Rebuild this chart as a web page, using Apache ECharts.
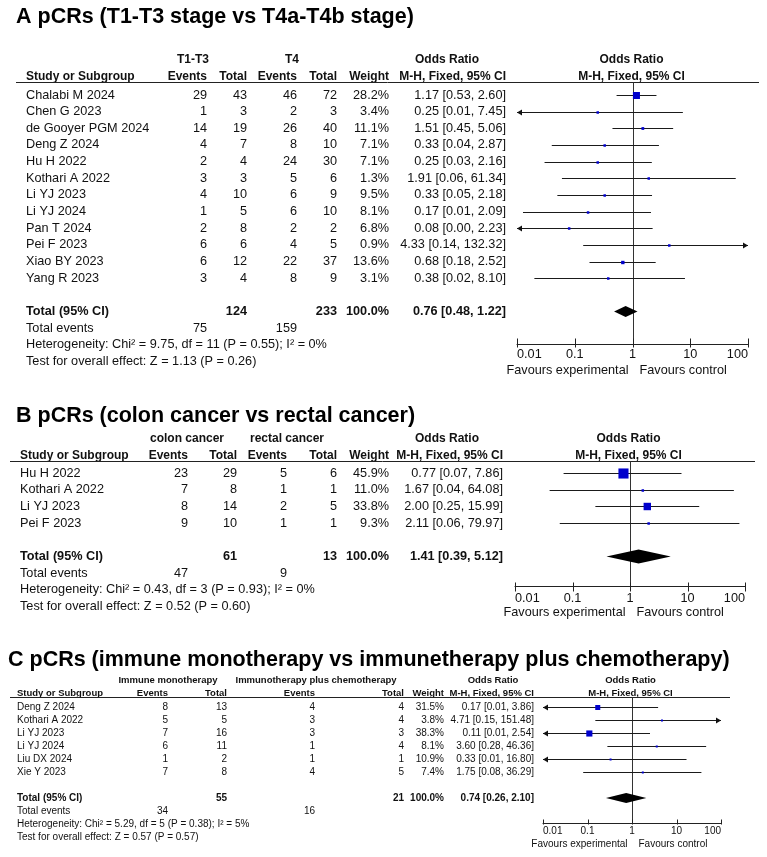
<!DOCTYPE html>
<html>
<head>
<meta charset="utf-8">
<script src="https://cdn.jsdelivr.net/npm/echarts@6/dist/echarts.min.js"></script>
<style>
html, body { margin: 0; padding: 0; background: #fff; }
#main { width: 767px; height: 857px; }
</style>
</head>
<body>
<div id="main"></div>
<script>
// axis tick labels (log scale, 0.01 .. 100)
var tickLabels = ['0.01', '0.1', '1', '10', '100'];

// ---- A: T1-T3 vs T4 ----
var aTitle = 'A pCRs (T1-T3 stage vs T4a-T4b stage)';
var aGroups = ['T1-T3', 'T4'];
var aStudies = ['Chalabi M 2024', 'Chen G 2023', 'de Gooyer PGM 2024', 'Deng Z 2024', 'Hu H 2022', 'Kothari A 2022',
  'Li YJ 2023', 'Li YJ 2024', 'Pan T 2024', 'Pei F 2023', 'Xiao BY 2023', 'Yang R 2023'];
var aEv1 = [29, 1, 14, 4, 2, 3, 4, 1, 2, 6, 6, 3];
var aTot1 = [43, 3, 19, 7, 4, 3, 10, 5, 8, 6, 12, 4];
var aEv2 = [46, 2, 26, 8, 24, 5, 6, 6, 2, 4, 22, 8];
var aTot2 = [72, 3, 40, 10, 30, 6, 9, 10, 2, 5, 37, 9];
var aWeight = [28.2, 3.4, 11.1, 7.1, 7.1, 1.3, 9.5, 8.1, 6.8, 0.9, 13.6, 3.1];
var aOR = [1.17, 0.25, 1.51, 0.33, 0.25, 1.91, 0.33, 0.17, 0.08, 4.33, 0.68, 0.38];
var aLow = [0.53, 0.008, 0.45, 0.04, 0.03, 0.06, 0.05, 0.0127, 0.003, 0.14, 0.18, 0.02];
var aHigh = [2.60, 7.45, 5.06, 2.87, 2.16, 61.34, 2.18, 2.09, 2.23, 132.32, 2.52, 8.10];
var aTotal = [0.76, 0.48, 1.22];
var aTotN = [124, 233];
var aTotEv = [75, 159];
var aHet = 'Heterogeneity: Chi\u00b2 = 9.75, df = 11 (P = 0.55); I\u00b2 = 0%';
var aTest = 'Test for overall effect: Z = 1.13 (P = 0.26)';

// ---- B: colon vs rectal ----
var bTitle = 'B pCRs (colon cancer vs rectal cancer)';
var bGroups = ['colon cancer', 'rectal cancer'];
var bStudies = ['Hu H 2022', 'Kothari A 2022', 'Li YJ 2023', 'Pei F 2023'];
var bEv1 = [23, 7, 8, 9];
var bTot1 = [29, 8, 14, 10];
var bEv2 = [5, 1, 2, 1];
var bTot2 = [6, 1, 5, 1];
var bWeight = [45.9, 11.0, 33.8, 9.3];
var bOR = [0.77, 1.67, 2.00, 2.11];
var bLow = [0.07, 0.04, 0.25, 0.06];
var bHigh = [7.86, 64.08, 15.99, 79.97];
var bTotal = [1.41, 0.39, 5.12];
var bTotN = [61, 13];
var bTotEv = [47, 9];
var bHet = 'Heterogeneity: Chi\u00b2 = 0.43, df = 3 (P = 0.93); I\u00b2 = 0%';
var bTest = 'Test for overall effect: Z = 0.52 (P = 0.60)';

// ---- C: monotherapy vs combination ----
var cTitle = 'C pCRs (immune monotherapy vs immunetherapy plus chemotherapy)';
var cGroups = ['Immune monotherapy', 'Immunotherapy plus chemotherapy'];
var cStudies = ['Deng Z 2024', 'Kothari A 2022', 'Li YJ 2023', 'Li YJ 2024', 'Liu DX 2024', 'Xie Y 2023'];
var cEv1 = [8, 5, 7, 6, 1, 7];
var cTot1 = [13, 5, 16, 11, 2, 8];
var cEv2 = [4, 3, 3, 1, 1, 4];
var cTot2 = [4, 4, 3, 4, 1, 5];
var cWeight = [31.5, 3.8, 38.3, 8.1, 10.9, 7.4];
var cOR = [0.17, 4.71, 0.11, 3.60, 0.33, 1.75];
var cLow = [0.008, 0.15, 0.006, 0.28, 0.006, 0.08];
var cHigh = [3.86, 151.48, 2.54, 46.36, 16.80, 36.29];
var cTotal = [0.74, 0.26, 2.10];
var cTotN = [55, 21];
var cTotEv = [34, 16];
var cHet = 'Heterogeneity: Chi\u00b2 = 5.29, df = 5 (P = 0.38); I\u00b2 = 5%';
var cTest = 'Test for overall effect: Z = 0.57 (P = 0.57)';

var FONT = '"Liberation Sans", Arial, sans-serif';
var INK = '#111';
var XMIN = 0.01, XMAX = 100;

function ci(o, l, h) {
  return o.toFixed(2) + ' [' + l.toFixed(2) + ', ' + h.toFixed(2) + ']';
}
function crisp(v) { return Math.round(v) + 0.5; }

// layout of each panel (pixels)
var panels = [
  {title: aTitle, groups: aGroups, studies: aStudies, ev1: aEv1, tot1: aTot1, ev2: aEv2, tot2: aTot2,
    w: aWeight, or: aOR, lo: aLow, hi: aHigh, total: aTotal, totN: aTotN, totEv: aTotEv, het: aHet, test: aTest,
    L: {titleX: 16, titleY: 17, row0: 95, pitch: 16.65, top: 82, axisY: 344, h1: 60, h2: 77,
      gl: 517, gr: 748, x0: 16, x1: 759, study: 26, cols: [207, 247, 297, 337, 389, 506],
      g1: 193, g2: 292, orC: 447, fs: 12.7, hfs: 12, margin: 4, favDy: 26, tUp: 6, tDn: 3,
      sq: 0.25, minSq: 2.5, dia: 5.5}},
  {title: bTitle, groups: bGroups, studies: bStudies, ev1: bEv1, tot1: bTot1, ev2: bEv2, tot2: bTot2,
    w: bWeight, or: bOR, lo: bLow, hi: bHigh, total: bTotal, totN: bTotN, totEv: bTotEv, het: bHet, test: bTest,
    L: {titleX: 16, titleY: 416, row0: 473, pitch: 16.7, top: 461, axisY: 586, h1: 439, h2: 456,
      gl: 515, gr: 745, x0: 10, x1: 755, study: 20, cols: [188, 237, 287, 337, 389, 503],
      g1: 187, g2: 287, orC: 447, fs: 12.7, hfs: 12, margin: 6, favDy: 26, tUp: 4, tDn: 5,
      sq: 0.22, minSq: 2.5, dia: 7}},
  {title: cTitle, groups: cGroups, studies: cStudies, ev1: cEv1, tot1: cTot1, ev2: cEv2, tot2: cTot2,
    w: cWeight, or: cOR, lo: cLow, hi: cHigh, total: cTotal, totN: cTotN, totEv: cTotEv, het: cHet, test: cTest,
    L: {titleX: 8, titleY: 660, row0: 707, pitch: 13, top: 697, axisY: 823, h1: 680, h2: 693,
      gl: 543, gr: 721, x0: 10, x1: 730, study: 17, cols: [168, 227, 315, 404, 444, 534],
      g1: 168, g2: 316, orC: 493, fs: 10, hfs: 9.5, margin: 3, favDy: 21, tUp: 4, tDn: 1,
      sq: 0.16, minSq: 2, dia: 5}}
];

function rowOf(L, py) { return (py - L.row0) / L.pitch; }

// text table, header rule, null line and the ticks
function tableRender(P) {
  var L = P.L, n = P.studies.length;
  return function (params, api) {
    var els = [];
    function y(r) { return api.coord([1, r])[1]; }
    function t(str, x, r, align, bold, size) {
      els.push({type: 'text', style: {text: String(str), x: x, y: y(r), align: align, verticalAlign: 'middle',
        fill: INK, fontFamily: FONT, fontSize: size || L.fs, fontWeight: bold ? 'bold' : 'normal'}});
    }
    var c = L.cols, h1 = rowOf(L, L.h1), h2 = rowOf(L, L.h2);
    var rTop = rowOf(L, L.top), rAxis = rowOf(L, L.axisY);
    var x1 = crisp(api.coord([1, 0])[0]);
    t(P.groups[0], L.g1, h1, 'center', true, L.hfs);
    t(P.groups[1], L.g2, h1, 'center', true, L.hfs);
    t('Odds Ratio', L.orC, h1, 'center', true, L.hfs);
    t('Odds Ratio', x1 - 2, h1, 'center', true, L.hfs);
    t('Study or Subgroup', L.study, h2, 'left', true, L.hfs);
    t('Events', c[0], h2, 'right', true, L.hfs);
    t('Total', c[1], h2, 'right', true, L.hfs);
    t('Events', c[2], h2, 'right', true, L.hfs);
    t('Total', c[3], h2, 'right', true, L.hfs);
    t('Weight', c[4], h2, 'right', true, L.hfs);
    t('M-H, Fixed, 95% CI', c[5], h2, 'right', true, L.hfs);
    t('M-H, Fixed, 95% CI', x1 - 2, h2, 'center', true, L.hfs);
    for (var i = 0; i < n; i++) {
      t(P.studies[i], L.study, i, 'left');
      t(P.ev1[i], c[0], i, 'right');
      t(P.tot1[i], c[1], i, 'right');
      t(P.ev2[i], c[2], i, 'right');
      t(P.tot2[i], c[3], i, 'right');
      t(P.w[i].toFixed(1) + '%', c[4], i, 'right');
      t(ci(P.or[i], P.lo[i], P.hi[i]), c[5], i, 'right');
    }
    var rt = n + 1;
    t('Total (95% CI)', L.study, rt, 'left', true);
    t(P.totN[0], c[1], rt, 'right', true);
    t(P.totN[1], c[3], rt, 'right', true);
    t('100.0%', c[4], rt, 'right', true);
    t(ci(P.total[0], P.total[1], P.total[2]), c[5], rt, 'right', true);
    t('Total events', L.study, rt + 1, 'left');
    t(P.totEv[0], c[0], rt + 1, 'right');
    t(P.totEv[1], c[2], rt + 1, 'right');
    t(P.het, L.study, rt + 2, 'left');
    t(P.test, L.study, rt + 3, 'left');
    var yTop = crisp(y(rTop)), yAx = crisp(y(rAxis));
    els.push({type: 'line', shape: {x1: L.x0, y1: yTop, x2: L.x1, y2: yTop}, style: {stroke: '#222', lineWidth: 1}});
    els.push({type: 'line', shape: {x1: x1, y1: yTop, x2: x1, y2: yAx}, style: {stroke: '#333', lineWidth: 1}});
    tickLabels.forEach(function (lb) {
      var tx = crisp(api.coord([Number(lb), rAxis])[0]);
      els.push({type: 'line', shape: {x1: tx, y1: yAx - L.tUp, x2: tx, y2: yAx + L.tDn}, style: {stroke: '#222', lineWidth: 1}});
    });
    var fy = y(rAxis) + L.favDy;
    els.push({type: 'text', style: {text: 'Favours experimental', x: x1 - 5, y: fy, align: 'right', verticalAlign: 'middle', fill: INK, fontFamily: FONT, fontSize: L.fs}});
    els.push({type: 'text', style: {text: 'Favours control', x: x1 + 6, y: fy, align: 'left', verticalAlign: 'middle', fill: INK, fontFamily: FONT, fontSize: L.fs}});
    return {type: 'group', children: els};
  };
}

function studyRender(L) {
  return function (params, api) {
    var or = api.value(0), lo = api.value(1), hi = api.value(2), w = api.value(3), r = api.value(4);
    var p = api.coord([or, r]);
    var yy = crisp(p[1]);
    var pl = api.coord([Math.max(lo, XMIN), r]);
    var ph = api.coord([Math.min(hi, XMAX), r]);
    var s = Math.max(L.minSq, w * L.sq);
    var els = [
      {type: 'line', shape: {x1: pl[0], y1: yy, x2: ph[0], y2: yy}, style: {stroke: '#1a1a1a', lineWidth: 1}},
      {type: 'rect', shape: {x: p[0] - s / 2, y: yy - s / 2, width: s, height: s}, style: {fill: '#0000cc'}}
    ];
    if (lo < XMIN) {
      els.push({type: 'polygon', shape: {points: [[pl[0], yy], [pl[0] + 5, yy - 3], [pl[0] + 5, yy + 3]]}, style: {fill: '#111'}});
    }
    if (hi > XMAX) {
      els.push({type: 'polygon', shape: {points: [[ph[0], yy], [ph[0] - 5, yy - 3], [ph[0] - 5, yy + 3]]}, style: {fill: '#111'}});
    }
    return {type: 'group', children: els};
  };
}

function diamondRender(L) {
  return function (params, api) {
    var r = api.value(3);
    var pc = api.coord([api.value(0), r]);
    var pl = api.coord([api.value(1), r]);
    var ph = api.coord([api.value(2), r]);
    return {type: 'polygon', shape: {points: [[pl[0], pc[1]], [pc[0], pc[1] - L.dia], [ph[0], pc[1]], [pc[0], pc[1] + L.dia]]},
      style: {fill: '#000'}};
  };
}

var grids = [], xAxes = [], yAxes = [], series = [], graphics = [];
panels.forEach(function (P, k) {
  var L = P.L;
  grids.push({left: L.gl, top: L.top, width: L.gr - L.gl, height: L.axisY - L.top, outerBoundsMode: 'none'});
  xAxes.push({
    type: 'log', logBase: 10, min: XMIN, max: XMAX, gridIndex: k,
    axisLine: {onZero: false, lineStyle: {color: '#222', width: 1}},
    axisTick: {show: false}, splitLine: {show: false},
    axisLabel: {
      margin: L.margin, color: INK, fontFamily: FONT, fontSize: L.fs,
      showMinLabel: true, showMaxLabel: true, alignMinLabel: 'left', alignMaxLabel: 'right',
      formatter: function (v) { return tickLabels[Math.round(Math.log10(v)) + 2]; }
    }
  });
  yAxes.push({type: 'value', inverse: true, gridIndex: k, show: false,
    min: rowOf(L, L.top), max: rowOf(L, L.axisY)});
  series.push({type: 'custom', xAxisIndex: k, yAxisIndex: k, silent: true,
    renderItem: tableRender(P), encode: {x: 0, y: 1}, data: [[1, 0]]});
  series.push({type: 'custom', xAxisIndex: k, yAxisIndex: k, silent: true,
    renderItem: studyRender(L), encode: {x: 0, y: 4},
    data: P.or.map(function (o, i) { return [o, P.lo[i], P.hi[i], P.w[i], i]; })});
  series.push({type: 'custom', xAxisIndex: k, yAxisIndex: k, silent: true,
    renderItem: diamondRender(L), encode: {x: 0, y: 3},
    data: [[P.total[0], P.total[1], P.total[2], P.studies.length + 1]]});
  graphics.push({type: 'text', x: L.titleX, y: L.titleY,
    style: {text: P.title, fill: '#000', fontFamily: FONT, fontSize: 21.5, fontWeight: 'bold', verticalAlign: 'middle'}});
});

var chart = echarts.init(document.getElementById('main'), null, {renderer: 'canvas'});
chart.setOption({
  animation: false,
  backgroundColor: '#fff',
  grid: grids,
  xAxis: xAxes,
  yAxis: yAxes,
  graphic: graphics,
  series: series
});
</script>
</body>
</html>
